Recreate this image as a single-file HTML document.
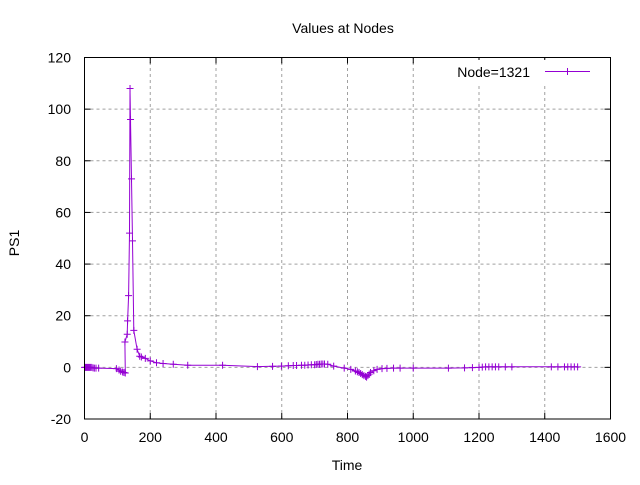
<!DOCTYPE html>
<html><head><meta charset="utf-8"><style>
body{margin:0;background:#fff}
svg text{font-family:"Liberation Sans",sans-serif;font-size:14px;fill:#000}
</style></head><body>
<svg width="640" height="480" xmlns="http://www.w3.org/2000/svg">
<g id="grid"></g>
<g id="ticks"></g>
<text x="343" y="33" text-anchor="middle">Values at Nodes</text>
<text x="347" y="470" text-anchor="middle">Time</text>
<text x="19" y="243" text-anchor="middle" transform="rotate(-90 19 243)">PS1</text>
<g id="series"></g>
<rect x="440" y="60" width="168" height="24" fill="#fff"/>
<g>
<text x="530" y="77" text-anchor="end">Node=1321</text>
<line x1="545" y1="71.5" x2="590" y2="71.5" stroke="#9400d3" stroke-width="1"/>
<line x1="567.5" y1="68" x2="567.5" y2="75" stroke="#9400d3"/>
<line x1="564" y1="71.5" x2="571" y2="71.5" stroke="#9400d3"/>
</g>
<rect x="84.5" y="57.5" width="526" height="361.5" fill="none" stroke="#000"/>
</svg>
<script>
const xTicks=[0,200,400,600,800,1000,1200,1400,1600];
const yTicks=[-20,0,20,40,60,80,100,120];
const times=[0,3,6,9,12,15,18,22,26,30,35,43,97,105,110,116,120,124,123,130,131,134,137,138.5,140,143,146,150,160,168,173,185,200,219,239,270,314,420,526,572,599,620,635,645,660,670,680,690,700,705,710,715,720,725,730,740,758,790,810,824,830,835,840,845,850,855,858,862,866,870,880,890,905,920,940,960,1000,1107,1156,1180,1200,1210,1220,1230,1240,1250,1260,1280,1300,1420,1440,1460,1470,1480,1490,1500];
const values=[0,0,0,0,0,0,0,0,-0.2,-0.3,-0.3,-0.3,-0.5,-1,-1.5,-1.8,-2,-2.2,9.8,12.8,18,27.8,52,108,96,73,49,14.3,7,4.3,4,3.5,2.5,1.8,1.5,1.2,0.8,0.8,0.3,0.4,0.5,0.6,0.7,0.7,0.8,0.8,0.9,1,1,1.1,1.2,1.2,1.3,1.3,1.3,1.2,0.5,-0.3,-0.8,-1.4,-1.7,-2,-2.4,-2.8,-3.2,-3.5,-3.8,-3.2,-2.6,-2,-1.3,-0.8,-0.5,-0.4,-0.3,-0.3,-0.3,-0.3,-0.2,-0.1,0,0.1,0.2,0.2,0.2,0.2,0.2,0.2,0.2,0.2,0.2,0.2,0.2,0.2,0.2,0.2];
const NS="http://www.w3.org/2000/svg";
const X0=84.5,X1=610.5,Y0=419,Y1=57.5;
const xs=t=>X0+(t-0)/(1600-0)*(X1-X0);
const ys=v=>Y0-(v+20)/140*(Y0-Y1);
function mk(tag,attrs,parent){const e=document.createElementNS(NS,tag);for(const k in attrs)e.setAttribute(k,attrs[k]);document.getElementById(parent).appendChild(e);return e;}
xTicks.forEach(t=>{const x=xs(t);
 if(t>0&&t<1600){const g=mk('line',{x1:x,y1:Y0,x2:x,y2:Y1,stroke:'#a0a0a0','stroke-dasharray':'3,3'},'grid');
 
 }
 mk('line',{x1:x,y1:Y0,x2:x,y2:Y0-6,stroke:'#000'},'ticks');
 mk('line',{x1:x,y1:Y1,x2:x,y2:Y1+6,stroke:'#000'},'ticks');
 const l=mk('text',{x:x,y:442,'text-anchor':'middle'},'ticks');l.textContent=t;
 
 });
yTicks.forEach(v=>{const y=ys(v);
 if(v>-20&&v<120){const g=mk('line',{x1:X0,y1:y,x2:X1,y2:y,stroke:'#a0a0a0','stroke-dasharray':'3,3'},'grid');
 
 }
 mk('line',{x1:X0,y1:y,x2:X0+6,y2:y,stroke:'#000'},'ticks');
 mk('line',{x1:X1,y1:y,x2:X1-6,y2:y,stroke:'#000'},'ticks');
 const l=mk('text',{x:71,y:y+5,'text-anchor':'end'},'ticks');l.textContent=v;
 
 });
const pts=times.map((t,i)=>xs(t).toFixed(1)+','+ys(values[i]).toFixed(1)).join(' ');
const pl=mk('polyline',{points:pts,fill:'none',stroke:'#9400d3','stroke-width':1},'series');


times.forEach((t,i)=>{const x=xs(t),y=ys(values[i]);
 const p=mk('path',{d:`M${x-3.5},${y}H${x+3.5}M${x},${y-3.5}V${y+3.5}`,stroke:'#9400d3','stroke-width':1},'series');
 
 });
</script>
</body></html>
